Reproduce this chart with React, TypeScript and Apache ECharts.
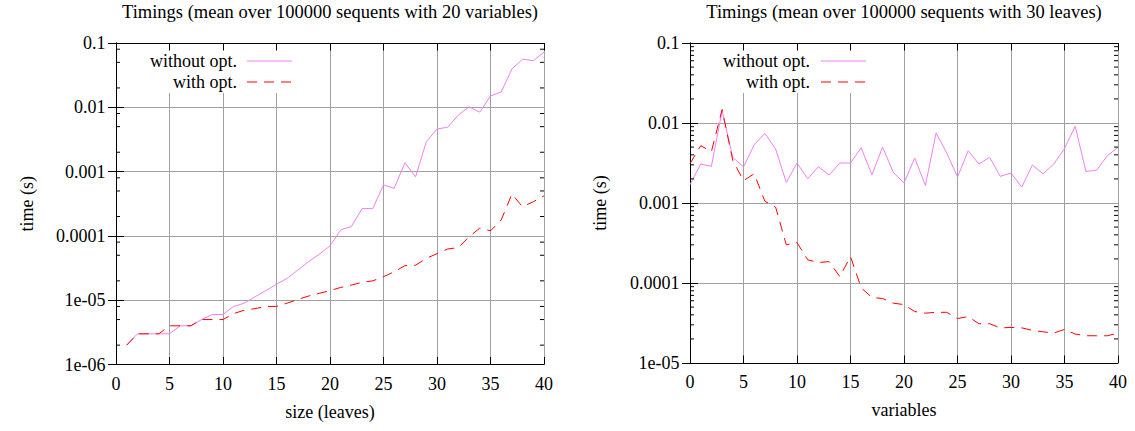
import React, { useEffect, useRef } from "react";
import * as echarts from "echarts";

// ---- data ----
const leftSizes = [1, 2, 3, 4, 5, 6, 7, 8, 9, 10, 11, 12, 13, 14, 15, 16, 17, 18, 19, 20, 21, 22, 23, 24, 25, 26, 27, 28, 29, 30, 31, 32, 33, 34, 35, 36, 37, 38, 39, 40];
const leftWithout = [2e-6, 3e-6, 3e-6, 3e-6, 3e-6, 4e-6, 4e-6, 5e-6, 6e-6, 6e-6, 8e-6, 9e-6, 1.13e-5, 1.41e-5, 1.77e-5, 2.19e-5, 2.95e-5, 3.98e-5, 5.2e-5, 7.0e-5, 1.24e-4, 1.4e-4, 2.66e-4, 2.66e-4, 6.2e-4, 5.5e-4, 1.37e-3, 8.3e-4, 2.92e-3, 4.6e-3, 4.9e-3, 7.6e-3, 1.02e-2, 8.4e-3, 1.5e-2, 1.73e-2, 3.94e-2, 5.6e-2, 5.3e-2, 7.2e-2];
const leftWith = [2e-6, 3e-6, 3e-6, 3e-6, 4e-6, 4e-6, 4e-6, 5e-6, 5e-6, 5e-6, 6.2e-6, 7e-6, 7.4e-6, 8e-6, 8e-6, 9e-6, 1.03e-5, 1.16e-5, 1.28e-5, 1.41e-5, 1.58e-5, 1.72e-5, 1.9e-5, 2.0e-5, 2.32e-5, 2.77e-5, 3.44e-5, 3.5e-5, 4.47e-5, 5.3e-5, 6.25e-5, 6.6e-5, 9.7e-5, 1.32e-4, 1.2e-4, 1.77e-4, 4.46e-4, 2.84e-4, 3.4e-4, 4.2e-4];

const rightVars = [0, 1, 2, 3, 4, 5, 6, 7, 8, 9, 10, 11, 12, 13, 14, 15, 16, 17, 18, 19, 20, 21, 22, 23, 24, 25, 26, 27, 28, 29, 30, 31, 32, 33, 34, 35, 36, 37, 38, 39, 40];
const rightWithout = [1.69e-3, 3.07e-3, 2.87e-3, 1.43e-2, 3.72e-3, 2.82e-3, 5.35e-3, 7.4e-3, 4.73e-3, 1.81e-3, 3.16e-3, 2.01e-3, 2.84e-3, 2.24e-3, 3.16e-3, 3.16e-3, 4.9e-3, 2.24e-3, 5.0e-3, 2.41e-3, 1.78e-3, 3.65e-3, 1.66e-3, 7.5e-3, 4.2e-3, 2.11e-3, 4.5e-3, 3.07e-3, 3.72e-3, 2.15e-3, 2.37e-3, 1.58e-3, 2.98e-3, 2.32e-3, 3.07e-3, 4.8e-3, 9.1e-3, 2.48e-3, 2.57e-3, 3.9e-3, 4.96e-3];
const rightWith = [3.1e-3, 5.2e-3, 4.4e-3, 1.47e-2, 3.4e-3, 1.9e-3, 2.32e-3, 1.05e-3, 8.9e-4, 3.0e-4, 3.2e-4, 1.95e-4, 1.8e-4, 1.85e-4, 1.2e-4, 2.14e-4, 8.7e-5, 6.6e-5, 6.4e-5, 5.6e-5, 5.37e-5, 4.4e-5, 4.2e-5, 4.3e-5, 4.3e-5, 3.6e-5, 3.8e-5, 3.1e-5, 3.1e-5, 2.75e-5, 2.78e-5, 2.75e-5, 2.56e-5, 2.45e-5, 2.37e-5, 2.63e-5, 2.3e-5, 2.19e-5, 2.19e-5, 2.19e-5, 2.37e-5];

const seriesNames = ["without opt.", "with opt."];
const titles = [
  "Timings (mean over 100000 sequents with 20 variables)",
  "Timings (mean over 100000 sequents with 30 leaves)",
];
const xNames = ["size (leaves)", "variables"];
const yName = "time (s)";
const xTicks = [0, 5, 10, 15, 20, 25, 30, 35, 40];
const leftYTicks = [1e-6, 1e-5, 1e-4, 1e-3, 1e-2, 1e-1];
const rightYTicks = [1e-5, 1e-4, 1e-3, 1e-2, 1e-1];
const logTickLabels: Record<string, string> = {
  "-1": "0.1",
  "-2": "0.01",
  "-3": "0.001",
  "-4": "0.0001",
  "-5": "1e-05",
  "-6": "1e-06",
};
const leftMinorMultipliers = [2, 5, 8];
const rightMinorMultipliers = [2, 3, 4, 5, 6, 7, 8, 9];

// ---- styles ----
const VIOLET = "#ee82ee";
const RED = "#ff0000";
const GRIDC = "#a0a0a0";
const FONT = "Liberation Serif";
const FS = 18;
const TITLE_FS = 18.5;
const DASH = [10, 7];

function minorLogValues(fromExp: number, toExp: number, mults: number[]) {
  const out: number[] = [];
  for (let k = fromExp; k < toExp; k++) for (const m of mults) out.push(m * Math.pow(10, k));
  return out;
}

function logLabel(v: number) {
  const e = Math.round(Math.log10(v));
  return logTickLabels[String(e)] ?? String(v);
}

export default function App() {
  const ref = useRef<HTMLDivElement>(null);
  useEffect(() => {
    if (!ref.current) return;
    const chart = echarts.init(ref.current, undefined, { renderer: "svg" });

    const grids = [
      { left: 116, top: 43, width: 428, height: 321.5 },
      { left: 690, top: 43, width: 428, height: 320 },
    ];
    const yRanges = [
      [1e-6, 0.1],
      [1e-5, 0.1],
    ];
    const yTickSets = [leftYTicks, rightYTicks];
    const minorSets = [
      minorLogValues(-6, -1, leftMinorMultipliers),
      minorLogValues(-5, -1, rightMinorMultipliers),
    ];
    const yNameX = [27, 600];

    const xAxes: any[] = [];
    const yAxes: any[] = [];
    [0, 1].forEach((g) => {
      ["bottom", "top"].forEach((pos) => {
        xAxes.push({
          type: "value",
          gridIndex: g,
          position: pos,
          min: 0,
          max: 40,
          interval: 5,
          z: pos === "top" ? 5 : 0,
          axisLine: { show: true, onZero: false, lineStyle: { color: "#000", width: 1 } },
          axisTick: { show: true, inside: true, length: 7.5, lineStyle: { color: "#000" } },
          axisLabel: { show: false },
          splitLine: { show: pos === "bottom", lineStyle: { color: GRIDC, width: 1 } },
        });
      });
      const [ymin, ymax] = yRanges[g];
      ["left", "right"].forEach((pos) => {
        yAxes.push({
          type: "log",
          logBase: 10,
          gridIndex: g,
          position: pos,
          min: ymin,
          max: ymax,
          axisLine: { show: true, lineStyle: { color: "#000", width: 1 } },
          axisTick: { show: true, inside: true, length: 8, lineStyle: { color: "#000" } },
          axisLabel: { show: false },
          splitLine: { show: pos === "left", lineStyle: { color: GRIDC, width: 1 } },
        });
      });
    });

    const mkLine = (name: string, xi: number, yi: number, xs: number[], ys: number[], color: string, dashed: boolean) => ({
      type: "line",
      name,
      xAxisIndex: xi,
      yAxisIndex: yi,
      data: xs.map((x, i) => [x, ys[i]]),
      symbol: "none",
      silent: true,
      z: 2,
      lineStyle: { color, width: 1, type: dashed ? DASH : "solid" },
      itemStyle: { color },
    });

    const minorTickSeries = (xi: number, yi: number, values: number[]) => ({
      type: "custom",
      xAxisIndex: xi,
      yAxisIndex: yi,
      silent: true,
      z: 5,
      data: values.map((v) => [0, v]),
      renderItem: (params: any, api: any) => {
        const v = api.value(1);
        const pl = api.coord([0, v]);
        const pr = api.coord([40, v]);
        return {
          type: "group",
          children: [
            { type: "line", shape: { x1: pl[0], y1: pl[1], x2: pl[0] + 4, y2: pl[1] }, style: { stroke: "#000", lineWidth: 1 } },
            { type: "line", shape: { x1: pr[0] - 4, y1: pr[1], x2: pr[0], y2: pr[1] }, style: { stroke: "#000", lineWidth: 1 } },
          ],
        };
      },
    });

    const series = [
      mkLine(seriesNames[0], 0, 0, leftSizes, leftWithout, VIOLET, false),
      mkLine(seriesNames[1], 0, 0, leftSizes, leftWith, RED, true),
      mkLine(seriesNames[0], 2, 2, rightVars, rightWithout, VIOLET, false),
      mkLine(seriesNames[1], 2, 2, rightVars, rightWith, RED, true),
      minorTickSeries(0, 0, minorSets[0]),
      minorTickSeries(2, 2, minorSets[1]),
    ];

    chart.setOption({
      animation: false,
      backgroundColor: "#fff",
      grid: grids,
      xAxis: xAxes,
      yAxis: yAxes,
      series,
    });

    const txt = (text: string, x: number, y: number, align: string, size: number, rotation = 0) => ({
      type: "text",
      x,
      y,
      rotation,
      z: 4,
      silent: true,
      style: {
        text,
        fill: "#000",
        font: `${size}px "${FONT}"`,
        align,
        verticalAlign: "middle",
        textAlign: align,
        textVerticalAlign: "middle",
      },
    });

    const legendBlock = (textRight: number, sampleX1: number, boxX: number, boxW: number) => [
      { type: "rect", z: 3, silent: true, shape: { x: boxX, y: 44, width: boxW, height: 49 }, style: { fill: "#fff" } },
      txt(seriesNames[0], textRight, 61, "right", FS),
      txt(seriesNames[1], textRight, 82, "right", FS),
      { type: "line", z: 4, silent: true, shape: { x1: sampleX1, y1: 61, x2: sampleX1 + 45, y2: 61 }, style: { stroke: VIOLET, lineWidth: 1 } },
      { type: "line", z: 4, silent: true, shape: { x1: sampleX1, y1: 82, x2: sampleX1 + 45, y2: 82 }, style: { stroke: RED, lineWidth: 1, lineDash: DASH } },
    ];

    const graphic: any[] = [
      txt(titles[0], 330, 12, "center", TITLE_FS),
      txt(titles[1], 904, 12, "center", TITLE_FS),
      ...legendBlock(237, 247, 117, 185),
      ...legendBlock(810, 821, 691, 180),
    ];

    // Axis tick labels and names, positioned through the axes' own scales
    [0, 1].forEach((g) => {
      const xi = g * 2;
      const yi = g * 2;
      const [ymin, ymax] = yRanges[g];
      const bottom = chart.convertToPixel({ yAxisIndex: yi }, ymin) as number;
      const top = chart.convertToPixel({ yAxisIndex: yi }, ymax) as number;
      const left = chart.convertToPixel({ xAxisIndex: xi }, 0) as number;
      const right = chart.convertToPixel({ xAxisIndex: xi }, 40) as number;
      xTicks.forEach((v) => {
        const px = chart.convertToPixel({ xAxisIndex: xi }, v) as number;
        graphic.push(txt(String(v), px, bottom + 19, "center", FS));
      });
      yTickSets[g].forEach((v) => {
        const py = chart.convertToPixel({ yAxisIndex: yi }, v) as number;
        graphic.push(txt(logLabel(v), left - 10.5, py, "right", FS));
      });
      graphic.push(txt(xNames[g], (left + right) / 2, bottom + 47, "center", FS));
      graphic.push(txt(yName, yNameX[g], (top + bottom) / 2, "center", FS, Math.PI / 2));
    });

    chart.setOption({ graphic });
    return () => chart.dispose();
  }, []);

  return (
    <div
      ref={ref}
      style={{ position: "fixed", left: 0, top: 0, width: 1135, height: 431, background: "#fff" }}
    />
  );
}
